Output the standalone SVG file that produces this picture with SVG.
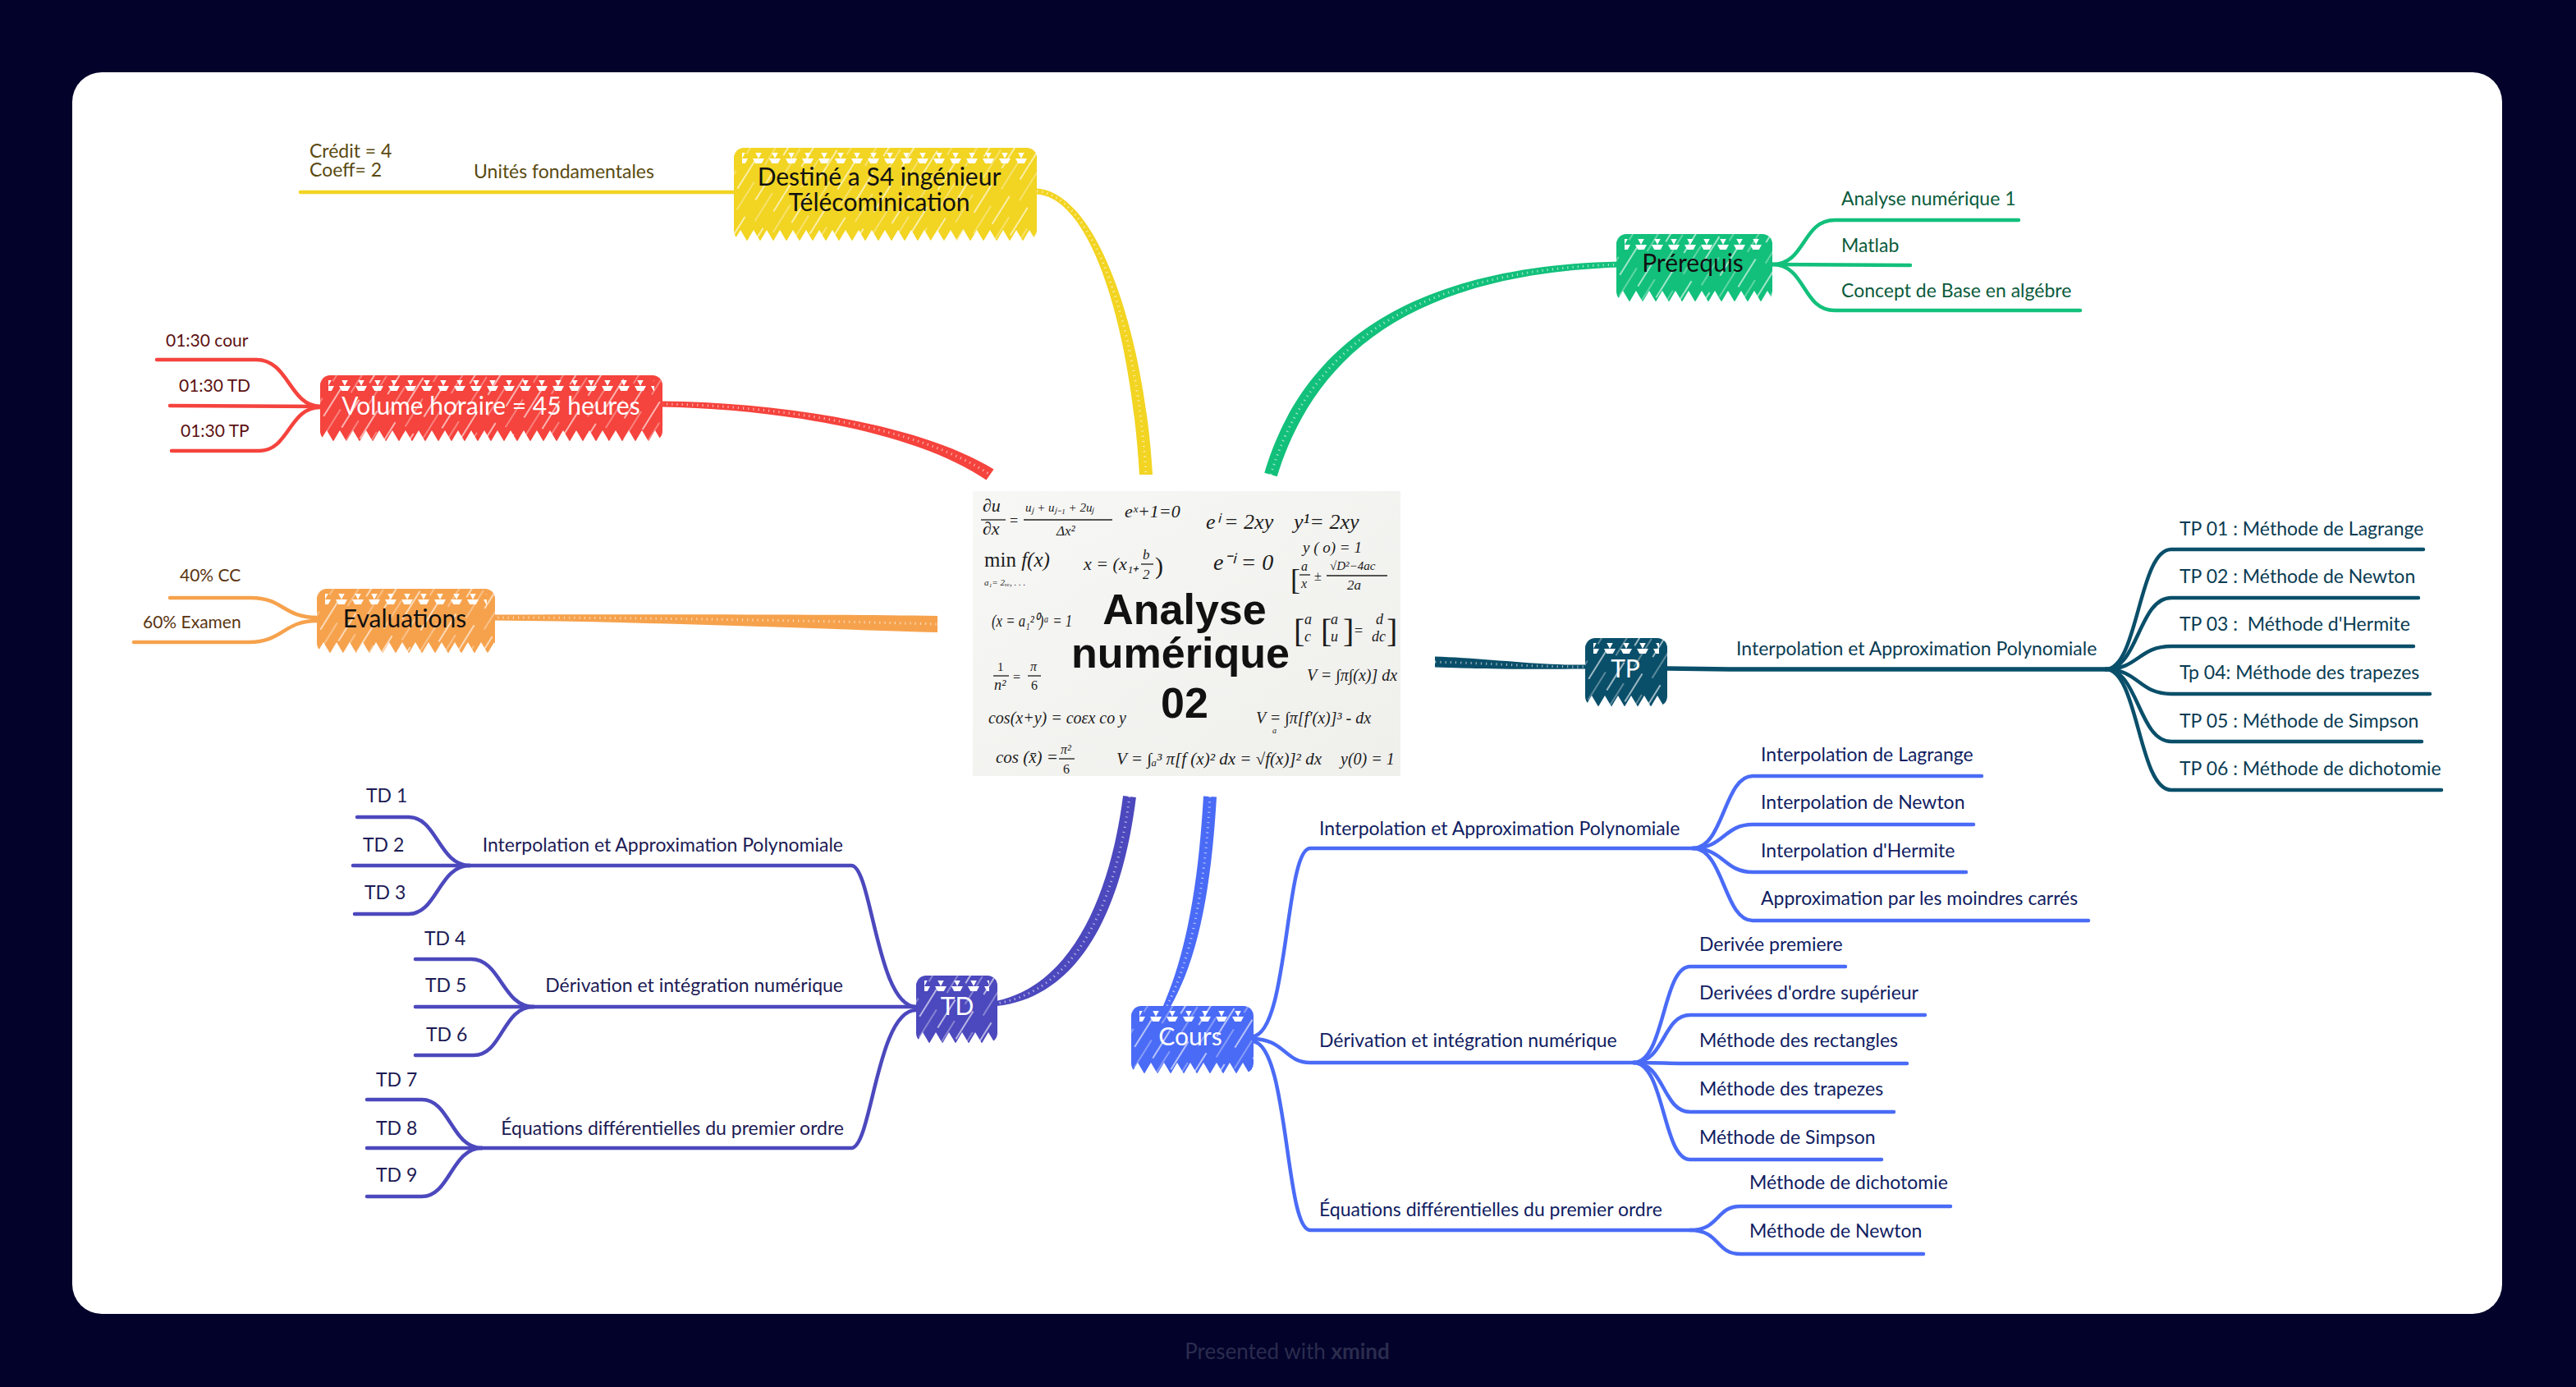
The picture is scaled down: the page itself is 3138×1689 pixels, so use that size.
<svg xmlns="http://www.w3.org/2000/svg" width="3138" height="1689" viewBox="0 0 3138 1689">
<defs>
<style>
.t{font-family:Lato,"Noto Sans","DejaVu Sans",sans-serif;font-size:23px}
.ts{font-family:Lato,"Noto Sans","DejaVu Sans",sans-serif;font-size:21px}
.tm{font-family:Lato,"Noto Sans","DejaVu Sans",sans-serif;font-size:30px;text-anchor:middle}
.e{text-anchor:end}
.w{fill:#fff}.k{fill:#111}
.ln{fill:none;stroke-width:4.5;stroke-linecap:round;stroke-linejoin:round}
.hx{fill:none;stroke:#fff;stroke-width:3;stroke-dasharray:1.2 5;opacity:.6}
.cy{stroke:#f2d422}.cr{stroke:#f5433d}.co{stroke:#f6a24d}.cg{stroke:#12c07b}.cp{stroke:#0a4f6a}.cd{stroke:#4c48bd}.cc{stroke:#4a6bf6}
.fy{fill:#f2d422}.fr{fill:#f5433d}.fo{fill:#f6a24d}.fg{fill:#12c07b}.fp{fill:#0a4f6a}.fd{fill:#4c48bd}.fc{fill:#4a6bf6}
.ty{fill:#5a4a10}.tr{fill:#5c1111}.to{fill:#5a3512}.tg{fill:#0b5b3b}.tp{fill:#0a3c53}.td{fill:#1d1b55}.tc{fill:#101d62}
.m{font-family:"Liberation Serif",serif;font-style:italic;fill:#1c1c1c}
.mu{font-family:"Liberation Serif",serif;fill:#1c1c1c}
.bar{stroke:#1c1c1c;stroke-width:1.3}
.title{font-family:"Liberation Sans",Arial,sans-serif;font-weight:700;font-size:52px;fill:#111;text-anchor:middle}
.hatch{fill:url(#hatch)}
.teeth{fill:url(#teeth)}
.notch{fill:url(#notch)}
</style>
<pattern id="hatch" width="26" height="64" patternUnits="userSpaceOnUse" patternTransform="rotate(32)">
<line x1="4" y1="0" x2="4" y2="40" stroke="#fff" stroke-width="1.6" opacity="0.75"/>
<line x1="17" y1="22" x2="17" y2="62" stroke="#fff" stroke-width="1.1" opacity="0.6"/>
</pattern>
<pattern id="teeth" width="20" height="13" patternUnits="userSpaceOnUse">
<polygon points="3,0 17,0 10,13" fill="#fff"/>
</pattern>
<pattern id="notch" width="16" height="14" patternUnits="userSpaceOnUse">
<polygon points="0,14.5 8,1 16,14.5" fill="#fff"/>
</pattern>
<linearGradient id="paper" x1="0" y1="0" x2="1" y2="1">
<stop offset="0" stop-color="#f7f7f5"/>
<stop offset="1" stop-color="#efefec"/>
</linearGradient>
</defs>

<rect width="3138" height="1689" fill="#02022b"/>
<rect x="88" y="88" width="2960" height="1512" rx="36" fill="#fff"/>

<g id="connectors">
<path class="fy" d="M1263,229.5 C1337,234 1394,406 1404,578 L1388,578 C1378,410 1333,242 1263,236.5 Z"/>
<path class="hx" d="M1263,233 C1335,238 1386,408 1396,578"/>
<path class="fr" d="M806,488.5 C950,490 1120,516 1210.5,571.4 L1201.5,584.6 C1116,526 950,498 806,495.5 Z"/>
<path class="hx" d="M806,492 C950,494 1120,520 1206,578"/>
<path class="fo" d="M600,748.5 C800,748 1000,748 1142,750 L1142,770 C1000,766 800,757 600,755.5 Z"/>
<path class="hx" d="M600,752 C800,752 1000,756 1142,760"/>
<path class="fg" d="M1540.3,575.7 C1582,436 1696,325 1972,318.5 L1972,325.5 C1704,335 1598,444 1555.7,580.3 Z"/>
<path class="hx" d="M1548,578 C1590,440 1700,330 1972,322"/>
<path class="fp" d="M1748,799.5 C1820,802 1870,810 1931,809.5 L1931,814.5 C1870,815 1820,815 1748,812.5 Z"/>
<path class="hx" d="M1748,806 C1820,808 1870,812 1931,812"/>
<path class="fd" d="M1383.9,971 C1370,1082 1328,1212 1214.5,1225 L1213.5,1219 C1312,1198 1354,1078 1368.1,969 Z"/>
<path class="hx" d="M1376,970 C1362,1080 1320,1205 1214,1222"/>
<path class="fc" d="M1482,970.5 C1475,1090 1458,1172 1423.6,1229.8 L1416.4,1226.2 C1442,1168 1459,1090 1466,969.5 Z"/>
<path class="hx" d="M1474,970 C1467,1090 1450,1170 1420,1228"/>

<path class="ln cy" d="M366,234 L894,234"/>
<path class="ln cr" d="M191,438 L312,438 C352,438 352,494 390,495"/>
<path class="ln cr" d="M207,494 L390,495"/>
<path class="ln cr" d="M209,549 L316,549 C352,549 352,496 390,496"/>
<path class="ln co" d="M207,728 L306,728 C345,728 345,752 386,752"/>
<path class="ln co" d="M163,782 L303,782 C345,782 345,756 386,756"/>
<path class="ln cg" d="M2159,322 C2200,322 2195,268 2235,268 L2459,268"/>
<path class="ln cg" d="M2159,322 L2327,323"/>
<path class="ln cg" d="M2159,322 C2200,322 2195,378 2235,378 L2534,378"/>
<path class="ln cp" d="M2031,814 L2107,815 L2565,815" style="stroke-width:5.5"/>
<path class="ln cp" d="M2565,815 C2605,815 2605,669 2645,669 L2952,669"/>
<path class="ln cp" d="M2565,815 C2605,815 2605,728 2645,728 L2946,728"/>
<path class="ln cp" d="M2565,815 C2605,815 2605,787 2645,787 L2940,787"/>
<path class="ln cp" d="M2565,815 C2605,815 2605,845 2645,845 L2960,845"/>
<path class="ln cp" d="M2565,815 C2605,815 2605,903 2645,903 L2950,903"/>
<path class="ln cp" d="M2565,815 C2605,815 2605,962 2645,962 L2974,962"/>
<path class="ln cd" d="M1116,1226 C1068,1226 1062,1054 1037,1054 L572,1054"/>
<path class="ln cd" d="M1116,1226 L650,1226"/>
<path class="ln cd" d="M1116,1230 C1068,1230 1062,1398 1037,1398 L587,1398"/>
<path class="ln cd" d="M572,1054 C535,1054 532,995 498,995 L435,995"/>
<path class="ln cd" d="M572,1054 L430,1054"/>
<path class="ln cd" d="M572,1054 C535,1054 532,1113 498,1113 L432,1113"/>
<path class="ln cd" d="M650,1226 C612,1226 610,1168 574,1168 L506,1168"/>
<path class="ln cd" d="M650,1226 L506,1226"/>
<path class="ln cd" d="M650,1226 C612,1226 612,1285 577,1285 L506,1285"/>
<path class="ln cd" d="M587,1398 C550,1398 548,1339 514,1339 L447,1339"/>
<path class="ln cd" d="M587,1398 L447,1398"/>
<path class="ln cd" d="M587,1398 C550,1398 548,1457 514,1457 L447,1457"/>
<path class="ln cc" d="M1525,1262 C1570,1262 1565,1033 1596,1033 L2062,1033"/>
<path class="ln cc" d="M1525,1265 C1565,1265 1565,1294 1596,1294 L1990,1294"/>
<path class="ln cc" d="M1525,1268 C1570,1268 1565,1498 1596,1498 L2059,1498"/>
<path class="ln cc" d="M2062,1033 C2100,1033 2100,945 2135,945 L2414,945"/>
<path class="ln cc" d="M2062,1033 C2100,1033 2100,1004 2135,1004 L2404,1004"/>
<path class="ln cc" d="M2062,1033 C2100,1033 2100,1062 2135,1062 L2395,1062"/>
<path class="ln cc" d="M2062,1033 C2100,1033 2100,1121 2135,1121 L2544,1121"/>
<path class="ln cc" d="M1990,1294 C2028,1294 2025,1177 2059,1177 L2248,1177"/>
<path class="ln cc" d="M1990,1294 C2028,1294 2025,1236 2059,1236 L2345,1236"/>
<path class="ln cc" d="M1990,1294 C2028,1294 2025,1295 2059,1295 L2323,1295"/>
<path class="ln cc" d="M1990,1294 C2028,1294 2025,1354 2059,1354 L2307,1354"/>
<path class="ln cc" d="M1990,1294 C2028,1294 2025,1412 2059,1412 L2292,1412"/>
<path class="ln cc" d="M2059,1498 C2095,1498 2090,1469 2120,1469 L2376,1469"/>
<path class="ln cc" d="M2059,1498 C2095,1498 2090,1527 2120,1527 L2343,1527"/>
</g>

<g id="central">
<rect x="1185" y="598" width="521" height="347" fill="url(#paper)"/>
<text class="m" x="1197" y="623" font-size="22">∂u</text>
<line class="bar" x1="1195" y1="633" x2="1225" y2="633"/>
<text class="m" x="1197" y="651" font-size="22">∂x</text>
<text class="mu" x="1230" y="640" font-size="18">=</text>
<text class="m" x="1249" y="623" font-size="15">uⱼ + uⱼ₋₁ + 2uⱼ</text>
<line class="bar" x1="1247" y1="633" x2="1355" y2="633"/>
<text class="m" x="1287" y="652" font-size="17">Δx²</text>
<text class="m" x="1370" y="630" font-size="22">eˣ+1=0</text>
<text class="m" x="1469" y="644" font-size="26">eⁱ = 2xy</text>
<text class="m" x="1576" y="644" font-size="26">y¹= 2xy</text>
<text class="mu" x="1199" y="690" font-size="25">min <tspan font-style="italic">f(x)</tspan></text>
<text class="m" x="1199" y="713" font-size="11">a₁= 2ᵥₑ, . . .</text>
<text class="m" x="1320" y="694" font-size="22">x = (x₁₊</text>
<text class="m" x="1392" y="681" font-size="17">b</text>
<line class="bar" x1="1390" y1="687" x2="1405" y2="687"/>
<text class="m" x="1392" y="705" font-size="17">2</text>
<text class="mu" x="1407" y="699" font-size="30">)</text>
<text class="m" x="1478" y="694" font-size="28">e⁻ⁱ = 0</text>
<text class="m" x="1587" y="673" font-size="19">y ( o) = 1</text>
<text class="mu" x="1572" y="718" font-size="36">[</text>
<text class="m" x="1585" y="695" font-size="16">a</text>
<line class="bar" x1="1583" y1="700" x2="1596" y2="700"/>
<text class="m" x="1585" y="716" font-size="16">x</text>
<text class="mu" x="1601" y="707" font-size="16">±</text>
<text class="m" x="1620" y="694" font-size="15">√D²−4ac</text>
<line class="bar" x1="1616" y1="701" x2="1690" y2="701"/>
<text class="m" x="1641" y="718" font-size="17">2a</text>
<text class="m" x="1208" y="763" font-size="20" textLength="98" lengthAdjust="spacingAndGlyphs">(x = a₁²⁰)ᵃ = 1</text>
<text class="mu" x="1576" y="782" font-size="40">[</text>
<text class="m" x="1589" y="760" font-size="18">a</text>
<text class="m" x="1589" y="781" font-size="18">c</text>
<text class="mu" x="1609" y="782" font-size="40">[</text>
<text class="m" x="1621" y="760" font-size="18">a</text>
<text class="m" x="1621" y="781" font-size="18">u</text>
<text class="mu" x="1636" y="782" font-size="40">]</text>
<text class="mu" x="1650" y="774" font-size="18">=</text>
<text class="m" x="1676" y="760" font-size="18">d</text>
<text class="m" x="1671" y="781" font-size="18">dc</text>
<text class="mu" x="1689" y="782" font-size="40">]</text>
<text class="mu" x="1215" y="817" font-size="15">1</text>
<line class="bar" x1="1210" y1="823" x2="1229" y2="823"/>
<text class="m" x="1211" y="840" font-size="18">n²</text>
<text class="mu" x="1234" y="830" font-size="16">=</text>
<text class="m" x="1255" y="817" font-size="16">π</text>
<line class="bar" x1="1252" y1="823" x2="1268" y2="823"/>
<text class="mu" x="1256" y="840" font-size="16">6</text>
<text class="m" x="1592" y="829" font-size="20">V = ∫π∫(x)] dx</text>
<text class="m" x="1204" y="881" font-size="21" textLength="168" lengthAdjust="spacingAndGlyphs">cos(x+y) = coεx co y</text>
<text class="m" x="1530" y="881" font-size="20">V = ∫π[f′(x)]³ - dx</text>
<text class="m" x="1550" y="893" font-size="10">a</text>
<text class="m" x="1213" y="929" font-size="21">cos (x̄) =</text>
<text class="m" x="1292" y="918" font-size="16">π²</text>
<line class="bar" x1="1290" y1="924" x2="1309" y2="924"/>
<text class="mu" x="1295" y="942" font-size="16">6</text>
<text class="m" x="1360" y="931" font-size="20" textLength="250" lengthAdjust="spacingAndGlyphs">V = ∫ₐ³ π[f (x)²  dx = √f(x)]² dx</text>
<text class="m" x="1633" y="931" font-size="20">y(0) = 1</text>
<text class="title" x="1443" y="760">Analyse</text>
<text class="title" x="1438" y="813">numérique</text>
<text class="title" x="1443" y="874">02</text>
</g>

<g id="node-destine" transform="translate(894,180)">
<rect width="369" height="113" rx="12" class="fy"/>
<rect width="369" height="113" rx="12" class="hatch"/>
<rect x="10" y="6" width="349" height="13" class="teeth"/>
<g transform="translate(0,99)"><rect width="369" height="14" class="notch"/></g>
<text class="tm k" x="177" y="46">Destiné a S4 ingénieur</text>
<text class="tm k" x="177" y="77">Télécominication</text>
</g>
<g id="node-destine-subs">
<text class="t ty" x="377" y="192">Crédit = 4</text>
<text class="t ty" x="377" y="215">Coeff= 2</text>
<text class="t ty" x="577" y="217">Unités fondamentales</text>
</g>

<g id="node-volume" transform="translate(390,457)">
<rect width="417" height="80" rx="12" class="fr"/>
<rect width="417" height="80" rx="12" class="hatch"/>
<rect x="10" y="6" width="397" height="13" class="teeth"/>
<g transform="translate(0,66)"><rect width="417" height="14" class="notch"/></g>
<text class="tm w" x="208" y="48">Volume horaire = 45 heures</text>
</g>
<g id="node-volume-subs">
<text class="ts tr" x="202" y="422">01:30 cour</text>
<text class="ts tr" x="218" y="477">01:30 TD</text>
<text class="ts tr" x="220" y="532">01:30 TP</text>
</g>

<g id="node-evaluations" transform="translate(386,717)">
<rect width="217" height="78" rx="12" class="fo"/>
<rect width="217" height="78" rx="12" class="hatch"/>
<rect x="10" y="6" width="197" height="13" class="teeth"/>
<g transform="translate(0,64)"><rect width="217" height="14" class="notch"/></g>
<text class="tm k" x="107" y="47">Evaluations</text>
</g>
<g id="node-evaluations-subs">
<text class="ts to" x="219" y="708">40% CC</text>
<text class="ts to" x="174" y="765">60% Examen</text>
</g>

<g id="node-prerequis" transform="translate(1969,285)">
<rect width="190" height="82" rx="12" class="fg"/>
<rect width="190" height="82" rx="12" class="hatch"/>
<rect x="10" y="6" width="170" height="13" class="teeth"/>
<g transform="translate(0,68)"><rect width="190" height="14" class="notch"/></g>
<text class="tm k" x="93" y="46">Prérequis</text>
</g>
<g id="node-prerequis-subs">
<text class="t tg" x="2243" y="250">Analyse numérique 1</text>
<text class="t tg" x="2243" y="307">Matlab</text>
<text class="t tg" x="2243" y="362">Concept de Base en algébre</text>
</g>

<g id="node-tp" transform="translate(1931,777)">
<rect width="100" height="83" rx="12" class="fp"/>
<rect width="100" height="83" rx="12" class="hatch"/>
<rect x="10" y="6" width="80" height="13" class="teeth"/>
<g transform="translate(0,69)"><rect width="100" height="14" class="notch"/></g>
<text class="tm w" x="49" y="48">TP</text>
</g>
<g id="node-tp-subs">
<text class="t tp" x="2115" y="798">Interpolation et Approximation Polynomiale</text>
<text class="t tp" x="2655" y="652">TP 01 : Méthode de Lagrange</text>
<text class="t tp" x="2655" y="710">TP 02 : Méthode de Newton</text>
<text class="t tp" x="2655" y="768" style="white-space:pre">TP 03 :  Méthode d'Hermite</text>
<text class="t tp" x="2655" y="827">Tp 04: Méthode des trapezes</text>
<text class="t tp" x="2655" y="886">TP 05 : Méthode de Simpson</text>
<text class="t tp" x="2655" y="944">TP 06 : Méthode de dichotomie</text>
</g>

<g id="node-td" transform="translate(1116,1188)">
<rect width="99" height="82" rx="12" class="fd"/>
<rect width="99" height="82" rx="12" class="hatch"/>
<rect x="10" y="6" width="79" height="13" class="teeth"/>
<g transform="translate(0,68)"><rect width="99" height="14" class="notch"/></g>
<text class="tm w" x="50" y="48">TD</text>
</g>
<g id="node-td-subs">
<text class="t td e" x="1027" y="1037">Interpolation et Approximation Polynomiale</text>
<text class="t td e" x="1027" y="1208">Dérivation et intégration numérique</text>
<text class="t td e" x="1028" y="1382">Équations différentielles du premier ordre</text>
<text class="t td" x="446" y="977">TD 1</text>
<text class="t td" x="442" y="1037">TD 2</text>
<text class="t td" x="444" y="1095">TD 3</text>
<text class="t td" x="517" y="1151">TD 4</text>
<text class="t td" x="518" y="1208">TD 5</text>
<text class="t td" x="519" y="1268">TD 6</text>
<text class="t td" x="458" y="1323">TD 7</text>
<text class="t td" x="458" y="1382">TD 8</text>
<text class="t td" x="458" y="1439">TD 9</text>
</g>

<g id="node-cours" transform="translate(1378,1225)">
<rect width="149" height="82" rx="12" class="fc"/>
<rect width="149" height="82" rx="12" class="hatch"/>
<rect x="10" y="6" width="129" height="13" class="teeth"/>
<g transform="translate(0,68)"><rect width="149" height="14" class="notch"/></g>
<text class="tm w" x="72" y="48">Cours</text>
</g>
<g id="node-cours-subs">
<text class="t tc" x="1607" y="1017">Interpolation et Approximation Polynomiale</text>
<text class="t tc" x="1607" y="1275">Dérivation et intégration numérique</text>
<text class="t tc" x="1607" y="1481">Équations différentielles du premier ordre</text>
<text class="t tc" x="2145" y="927">Interpolation de Lagrange</text>
<text class="t tc" x="2145" y="985">Interpolation de Newton</text>
<text class="t tc" x="2145" y="1044">Interpolation d'Hermite</text>
<text class="t tc" x="2145" y="1102">Approximation par les moindres carrés</text>
<text class="t tc" x="2070" y="1158">Derivée premiere</text>
<text class="t tc" x="2070" y="1217">Derivées d'ordre supérieur</text>
<text class="t tc" x="2070" y="1275">Méthode des rectangles</text>
<text class="t tc" x="2070" y="1334">Méthode des trapezes</text>
<text class="t tc" x="2070" y="1393">Méthode de Simpson</text>
<text class="t tc" x="2131" y="1448">Méthode de dichotomie</text>
<text class="t tc" x="2131" y="1507">Méthode de Newton</text>
</g>

<text x="1568" y="1655" text-anchor="middle" font-family="Lato,'Noto Sans',sans-serif" font-size="26" fill="#2b2c4d">Presented with <tspan font-weight="700">xmind</tspan></text>
</svg>
